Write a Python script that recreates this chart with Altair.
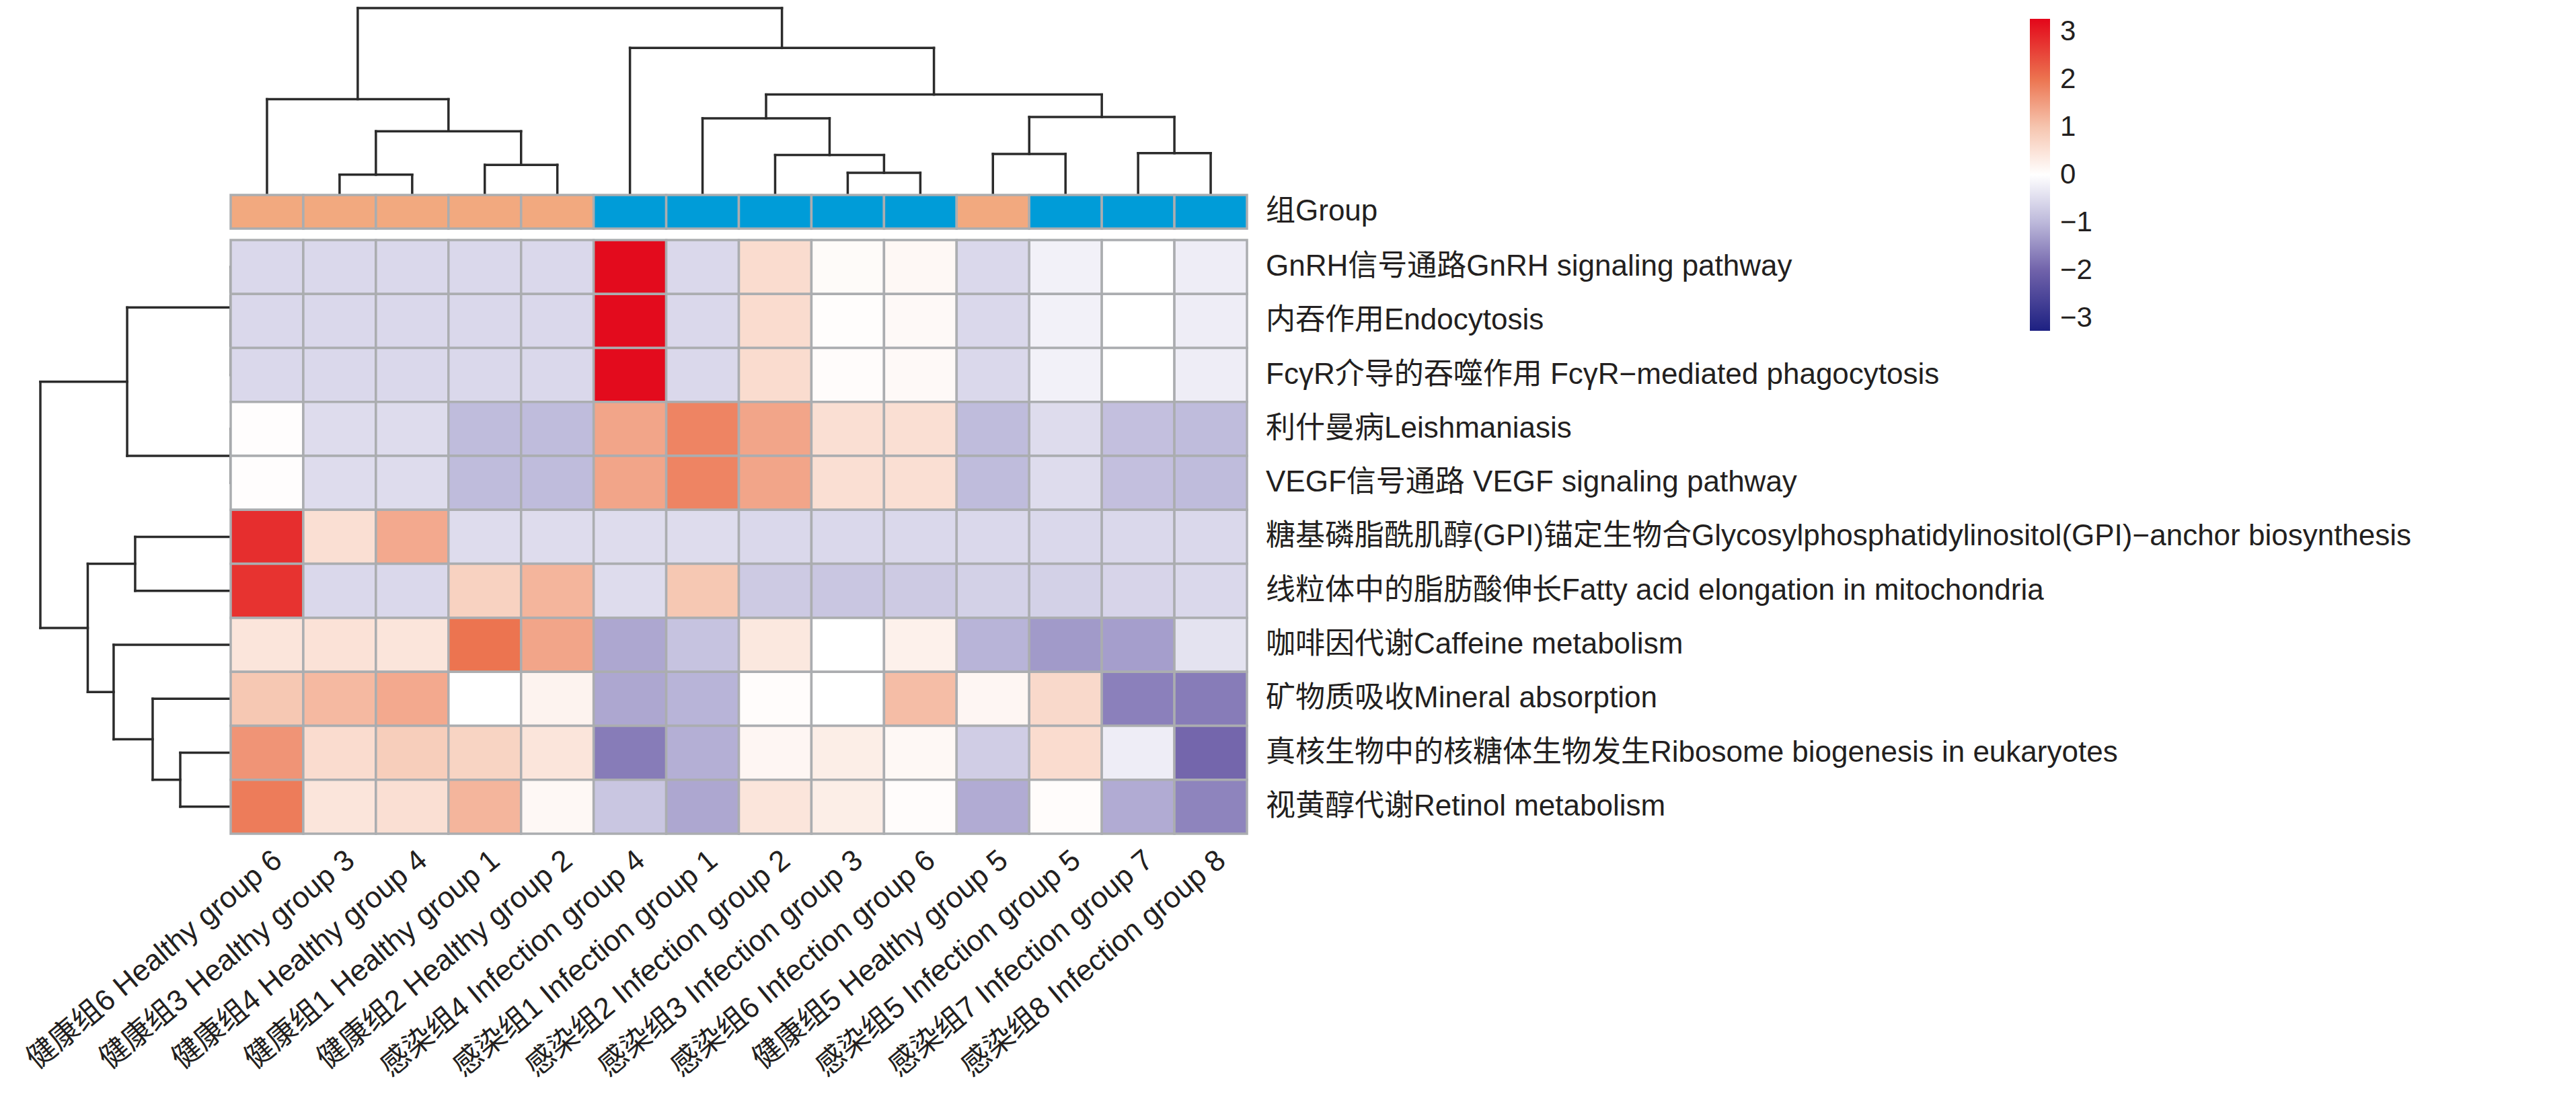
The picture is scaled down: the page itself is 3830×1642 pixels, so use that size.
import altair as alt
import pandas as pd

# ---------------- data ----------------
samples = [
    "健康组6 Healthy group 6", "健康组3 Healthy group 3", "健康组4 Healthy group 4",
    "健康组1 Healthy group 1", "健康组2 Healthy group 2", "感染组4 Infection group 4",
    "感染组1 Infection group 1", "感染组2 Infection group 2", "感染组3 Infection group 3",
    "感染组6 Infection group 6", "健康组5 Healthy group 5", "感染组5 Infection group 5",
    "感染组7 Infection group 7", "感染组8 Infection group 8",
]
sample_group = ["Healthy", "Healthy", "Healthy", "Healthy", "Healthy",
                "Infection", "Infection", "Infection", "Infection", "Infection",
                "Healthy", "Infection", "Infection", "Infection"]

pathways = [
    "GnRH信号通路GnRH signaling pathway",
    "内吞作用Endocytosis",
    "FcγR介导的吞噬作用 FcγR−mediated phagocytosis",
    "利什曼病Leishmaniasis",
    "VEGF信号通路 VEGF signaling pathway",
    "糖基磷脂酰肌醇(GPI)锚定生物合Glycosylphosphatidylinositol(GPI)−anchor biosynthesis",
    "线粒体中的脂肪酸伸长Fatty acid elongation in mitochondria",
    "咖啡因代谢Caffeine metabolism",
    "矿物质吸收Mineral absorption",
    "真核生物中的核糖体生物发生Ribosome biogenesis in eukaryotes",
    "视黄醇代谢Retinol metabolism",
]

gnrh        = [-0.55, -0.55, -0.55, -0.55, -0.55, 3.2, -0.55, 0.6, 0.07, 0.12, -0.55, -0.2, 0.0, -0.25]
endocytosis = [-0.55, -0.55, -0.55, -0.55, -0.55, 3.2, -0.55, 0.6, 0.04, 0.1, -0.55, -0.2, 0.0, -0.25]
fcgr        = [-0.55, -0.55, -0.55, -0.55, -0.55, 3.2, -0.55, 0.6, 0.05, 0.1, -0.55, -0.2, 0.0, -0.25]
leish       = [0.03, -0.5, -0.5, -0.95, -0.95, 1.4, 1.8, 1.4, 0.55, 0.55, -0.95, -0.5, -0.9, -0.95]
vegf        = [0.03, -0.5, -0.5, -0.95, -0.95, 1.4, 1.8, 1.4, 0.55, 0.55, -0.95, -0.5, -0.9, -0.95]
gpi         = [2.8, 0.55, 1.35, -0.5, -0.5, -0.5, -0.5, -0.55, -0.55, -0.55, -0.55, -0.55, -0.55, -0.55]
fatty       = [2.75, -0.55, -0.55, 0.78, 1.2, -0.5, 0.95, -0.75, -0.8, -0.75, -0.65, -0.65, -0.6, -0.55]
caffeine    = [0.45, 0.5, 0.45, 2.0, 1.4, -1.2, -0.85, 0.4, 0.0, 0.25, -1.05, -1.35, -1.3, -0.4]
mineral     = [0.95, 1.15, 1.35, 0.0, 0.2, -1.2, -1.05, 0.05, 0.0, 1.1, 0.15, 0.65, -1.65, -1.7]
ribosome    = [1.6, 0.6, 0.85, 0.75, 0.45, -1.7, -1.1, 0.15, 0.3, 0.12, -0.7, 0.6, -0.25, -1.95]
retinol     = [1.9, 0.45, 0.55, 1.2, 0.12, -0.8, -1.2, 0.45, 0.3, 0.05, -1.15, 0.05, -1.15, -1.6]
matrix = [gnrh, endocytosis, fcgr, leish, vegf, gpi, fatty, caffeine, mineral, ribosome, retinol]

# dendrograms: (merge height relative to root, left, right); ints = leaf positions
col_tree = (1.0,
            (0.509, 0, (0.336, (0.102, 1, 2), (0.155, 3, 4))),
            (0.785, 5, (0.534,
                        (0.406, 6, (0.208, 7, (0.112, 8, 9))),
                        (0.413, (0.214, 10, 11), (0.218, 12, 13)))))
row_tree = (1.0,
            (0.544, (0.0, 0, (0.0, 1, 2)), (0.0, 3, 4)),
            (0.751, (0.502, 5, 6), (0.615, 7, (0.410, 8, (0.265, 9, 10)))))

legend_ticks = [-3, -2, -1, 0, 1, 2, 3]
color_domain = [-3.26, -2, -1, 0, 1, 2, 3.26]
color_range = ["#1D2082", "#7062AA", "#BCB8DA", "#FFFFFF", "#F6C5AF", "#EC7450", "#E3061A"]
group_colors = {"Healthy": "#F2A97F", "Infection": "#009CD8"}

# ---------------- layout (units: one column / one row) ----------------
W, H = 3814, 1626
COL_W, ROW_H = 107.93, 80.27
HEAT_LEFT, HEAT_TOP = 335.0, 349.0
x_dom = [-HEAT_LEFT / COL_W, (W - HEAT_LEFT) / COL_W]
y_dom = [-HEAT_TOP / ROW_H, (H - HEAT_TOP) / ROW_H]
xs = alt.Scale(domain=x_dom, nice=False, zero=False)
ys = alt.Scale(domain=y_dom, nice=False, zero=False, reverse=True)

BAR_TOP, BAR_BOT = -67.0 / ROW_H, -17.0 / ROW_H
COL_LEAF_Y = -69.0 / ROW_H
COL_DEPTH = 276.0 / ROW_H
ROW_DEPTH = 283.0 / COL_W
LABEL_X = 14 + 28.0 / COL_W

FONT = "Liberation Sans, Noto Sans CJK SC"
TXT = "#231F20"
FS = 44
FS_COL = 44

n_r, n_c = len(pathways), len(samples)

heat = pd.DataFrame([
    {"x": c, "x2": c + 1, "y": r, "y2": r + 1, "value": matrix[r][c],
     "sample": samples[c], "pathway": pathways[r]}
    for r in range(n_r) for c in range(n_c)
])

bar = pd.DataFrame([
    {"x": c, "x2": c + 1, "y": BAR_TOP, "y2": BAR_BOT, "group": sample_group[c]}
    for c in range(n_c)
])


def segments(tree):
    segs = []

    def walk(node):
        if isinstance(node, int):
            return node + 0.5, 0.0
        h, a, b = node
        pa, ha = walk(a)
        pb, hb = walk(b)
        segs.append((pa, ha, pa, h))
        segs.append((pb, hb, pb, h))
        segs.append((pa, h, pb, h))
        return (pa + pb) / 2, h

    walk(tree)
    return segs


col_seg = pd.DataFrame([
    {"x": p1, "x2": p2, "y": COL_LEAF_Y - h1 * COL_DEPTH, "y2": COL_LEAF_Y - h2 * COL_DEPTH}
    for (p1, h1, p2, h2) in segments(col_tree)
])
row_seg = pd.DataFrame([
    {"y": p1, "y2": p2, "x": -h1 * ROW_DEPTH, "x2": -h2 * ROW_DEPTH}
    for (p1, h1, p2, h2) in segments(row_tree)
])

row_lab = pd.DataFrame({"x": [LABEL_X] * n_r, "y": [r + 0.5 for r in range(n_r)], "text": pathways})
grp_lab = pd.DataFrame({"x": [LABEL_X], "y": [(BAR_TOP + BAR_BOT) / 2], "text": ["组Group"]})
col_lab = pd.DataFrame({"x": [c + 0.5 + 25.0 / COL_W for c in range(n_c)],
                        "y": [n_r + 44.0 / ROW_H] * n_c, "text": samples})

X = lambda f: alt.X(f"{f}:Q", scale=xs, axis=None)
Y = lambda f: alt.Y(f"{f}:Q", scale=ys, axis=None)

dendro_style = dict(color="#2B2B2B", strokeWidth=3.5, strokeCap="square")

col_dendro = alt.Chart(col_seg).mark_rule(**dendro_style).encode(
    x=X("x"), x2="x2", y=Y("y"), y2="y2")
row_dendro = alt.Chart(row_seg).mark_rule(**dendro_style).encode(
    x=X("x"), x2="x2", y=Y("y"), y2="y2")

heat_layer = alt.Chart(heat).mark_rect(stroke="#ABADB0", strokeWidth=3.5).encode(
    x=X("x"), x2="x2", y=Y("y"), y2="y2",
    color=alt.Color("value:Q",
                    scale=alt.Scale(domain=color_domain, range=color_range,
                                    interpolate="rgb", clamp=True),
                    legend=alt.Legend(orient="none", legendX=3010, legendY=20, title=None,
                                      direction="vertical", gradientLength=464,
                                      gradientThickness=30, gradientStrokeWidth=0,
                                      values=legend_ticks, labelFontSize=42, labelFont=FONT,
                                      labelColor=TXT, labelOffset=15, padding=0)),
)

bar_layer = alt.Chart(bar).mark_rect(stroke="#ABADB0", strokeWidth=3.5).encode(
    x=X("x"), x2="x2", y=Y("y"), y2="y2",
    fill=alt.Fill("group:N",
                  scale=alt.Scale(domain=list(group_colors.keys()),
                                  range=list(group_colors.values())),
                  legend=None),
)

row_text = alt.Chart(row_lab).mark_text(align="left", baseline="middle", font=FONT,
                                        fontSize=FS, color=TXT).encode(
    x=X("x"), y=Y("y"), text="text:N")
grp_text = alt.Chart(grp_lab).mark_text(align="left", baseline="middle", font=FONT,
                                        fontSize=FS, color=TXT).encode(
    x=X("x"), y=Y("y"), text="text:N")
col_text = alt.Chart(col_lab).mark_text(align="right", baseline="alphabetic", angle=320,
                                        font=FONT, fontSize=FS_COL, color=TXT).encode(
    x=X("x"), y=Y("y"), text="text:N")

chart = alt.layer(col_dendro, row_dendro, heat_layer, bar_layer, row_text, grp_text, col_text).properties(
    width=W, height=H, autosize=alt.AutoSizeParams(type="none"), padding=0,
).configure_view(stroke=None)

chart.save("out.html", embed_options={"renderer": "svg", "actions": False})
